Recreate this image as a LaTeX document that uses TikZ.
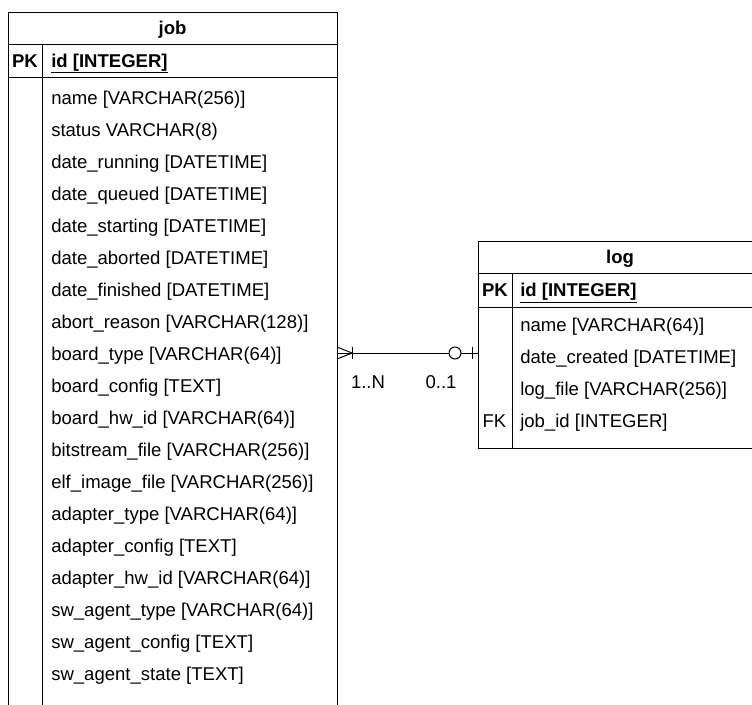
\documentclass[tikz,border=0pt]{standalone}
\usepackage{fontspec}
\setmainfont{Liberation Sans}
\begin{document}
\begin{tikzpicture}[x=0.75pt,y=-0.75pt,
  txt/.style={font=\fontsize{13.9}{16}\selectfont, inner sep=0pt},
  field/.style={txt, anchor=base west},
  keylbl/.style={txt, anchor=base},
  boldlbl/.style={txt, anchor=base, font=\fontsize{13.9}{16}\selectfont\bfseries},
  rule/.style={draw=black, line width=0.75pt},
  link/.style={draw=black, line width=0.75pt}]
\useasboundingbox (0,0) rectangle (752,704);
\clip (0,0) rectangle (752,704);

% ---------- table: job ----------
\coordinate (jobNW) at (8,12);
\coordinate (jobSE) at (337,720);
\path[rule] (jobNW) rectangle (jobSE);
\path[rule] (8,44) -- (337,44);
\path[rule] (8,77) -- (337,77);
\path[rule] (42,44) -- (42,720);
\node[boldlbl] (jobtitle) at (172.5,34) {job};
\node[boldlbl] (jobpk) at (25,67) {PK};
\node[boldlbl, anchor=base west] (jobid) at (51,67) {\underline{id [INTEGER]}};
\foreach \f [count=\i from 0] in {
  {name [VARCHAR(256)]},
  {status VARCHAR(8)},
  {date\_running [DATETIME]},
  {date\_queued [DATETIME]},
  {date\_starting [DATETIME]},
  {date\_aborted [DATETIME]},
  {date\_finished [DATETIME]},
  {abort\_reason [VARCHAR(128)]},
  {board\_type [VARCHAR(64)]},
  {board\_config [TEXT]},
  {board\_hw\_id [VARCHAR(64)]},
  {bitstream\_file [VARCHAR(256)]},
  {elf\_image\_file [VARCHAR(256)]},
  {adapter\_type [VARCHAR(64)]},
  {adapter\_config [TEXT]},
  {adapter\_hw\_id [VARCHAR(64)]},
  {sw\_agent\_type [VARCHAR(64)]},
  {sw\_agent\_config [TEXT]},
  {sw\_agent\_state [TEXT]}}
  \node[field] (jobf\i) at (51,{104.5+32*\i}) {\f};

% ---------- table: log ----------
\coordinate (logNW) at (478,241);
\coordinate (logSE) at (762,448);
\path[rule] (logNW) rectangle (logSE);
\path[rule] (478,273) -- (762,273);
\path[rule] (478,307) -- (762,307);
\path[rule] (512,273) -- (512,448);
\node[boldlbl] (logtitle) at (620,263) {log};
\node[boldlbl] (logpk) at (495,296.5) {PK};
\node[boldlbl, anchor=base west] (logid) at (520,296.5) {\underline{id [INTEGER]}};
\node[field] (logf0) at (520,331) {name [VARCHAR(64)]};
\node[field] (logf1) at (520,363) {date\_created [DATETIME]};
\node[field] (logf2) at (520,395) {log\_file [VARCHAR(256)]};
\node[field] (logf3) at (520,427) {job\_id [INTEGER]};
\node[keylbl] (logfk) at (494.5,427) {FK};

% ---------- relationship job (1..N) -- log (0..1) ----------
\coordinate (jobport) at (337,353);
\coordinate (logport) at (478,353);
\path[link] (jobport) -- (logport);
% one-or-many end at job
\path[link] (jobport) ++(0,-6) -- ++(15,6) -- ++(-15,6);
\path[link] (jobport) ++(15,-6) -- ++(0,12);
% zero-or-one end at log
\path[link] (logport) ++(-6,-6) -- ++(0,12);
\path[link, fill=white] (logport) ++(-23,0) circle[radius=4.5pt];
\node[keylbl] (card1) at (368,388) {1..N};
\node[keylbl] (card2) at (441,388) {0..1};
\end{tikzpicture}
\end{document}
